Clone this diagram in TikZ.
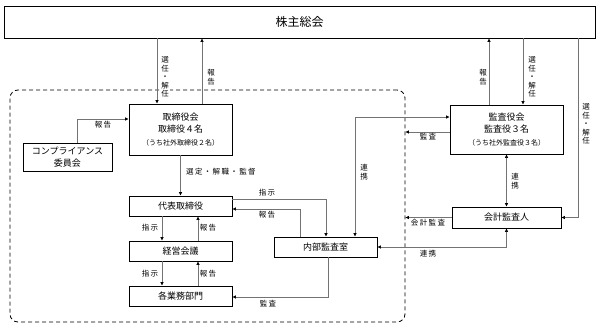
\documentclass[tikz,border=0pt]{standalone}
\usepackage{fontspec}
\setmainfont{Noto Sans CJK JP}
\newfontfamily\lblfont{Noto Sans CJK JP}[LetterSpace=18]
\usetikzlibrary{arrows.meta}

\begin{document}
\begin{tikzpicture}[x=1pt, y=-1pt,
    box/.style={draw, line width=0.9pt, minimum width=103pt, minimum height=20pt, inner sep=0pt, align=center, font=\fontsize{9}{12.5}\selectfont},
    conn/.style={draw=black!55, line width=0.7pt, -{Triangle[length=3.5pt, width=3pt, color=black]}},
    both/.style={conn, {Triangle[length=3.5pt, width=3pt, color=black]}-{Triangle[length=3.5pt, width=3pt, color=black]}},
    lbl/.style={font=\lblfont\fontsize{7.5}{8.6}\selectfont, inner sep=1pt},
    vlbl/.style={lbl, fill=white, align=center}]
    \useasboundingbox (0,0) rectangle (600,327);
    \node[draw, line width=0.8pt, dash pattern=on 4pt off 3pt, rounded corners=8pt, minimum width=395pt, minimum height=232pt] (grp) at (207.5,206) {};
    \node[box, minimum width=591pt, minimum height=32pt, font=\fontsize{12}{14}\selectfont] (gm) at (299.5,22) {株主総会};
    \node[box, minimum height=51pt] (bod) at (180.5,129.5) {取締役会\\取締役４名\\{\fontsize{7}{9}\selectfont （うち社外取締役２名）}};
    \node[box, minimum width=89pt, minimum height=28pt, font=\fontsize{9}{12}\selectfont] (comp) at (67.5,157) {コンプライアンス\\委員会};
    \node[box] (rep) at (180.5,206) {代表取締役};
    \node[box] (mgmt) at (180.5,251) {経営会議};
    \node[box] (dept) at (180.5,296) {各業務部門};
    \node[box] (audit) at (325.5,247) {内部監査室};
    \node[box, minimum width=113pt, minimum height=49pt] (kab) at (506.5,129.5) {監査役会\\監査役３名\\{\fontsize{7}{9}\selectfont （うち社外監査役３名）}};
    \node[box, minimum width=109pt, minimum height=21pt] (acc) at (506.5,217.5) {会計監査人};

    \draw[conn] (gm.south -| 157,0) -- (bod.north -| 157,0);
    \draw[conn] (bod.north -| 202,0) -- (gm.south -| 202,0);
    \draw[conn] (comp.north -| 77,0) |- (bod.west |- 0,119);
    \draw[conn] (bod.south) -- (rep.north);
    \draw[conn] (rep.south -| 162,0) -- (mgmt.north -| 162,0);
    \draw[conn] (mgmt.north -| 198,0) -- (rep.south -| 198,0);
    \draw[conn] (mgmt.south -| 162,0) -- (dept.north -| 162,0);
    \draw[conn] (dept.north -| 198,0) -- (mgmt.south -| 198,0);
    \draw[conn] (rep.east |- 0,199) -| (audit.north -| 326,0);
    \draw[conn] (audit.north -| 300,0) |- (rep.east |- 0,209);
    \draw[conn] (audit.south -| 328,0) |- (dept.east |- 0,297);
    \draw[both] (audit.north -| 355,0) |- (kab.west |- 0,117);
    \draw[conn] (kab.west |- 0,132) -- (grp.east |- 0,132);
    \draw[conn] (kab.north -| 489,0) -- (gm.south -| 489,0);
    \draw[conn] (gm.south -| 523,0) -- (kab.north -| 523,0);
    \draw[both] (kab.south) -- (acc.north);
    \draw[conn] (acc.west) -- (grp.east |- acc.west);
    \draw[both] (acc.south) |- (audit.east);
    \draw[conn] (gm.south -| 578,0) |- (acc.east);

    \node[vlbl] (lSelBod) at (165,77) {選\\任\\・\\解\\任};
    \node[vlbl] (lRepGm) at (211,77) {報\\告};
    \node[lbl] (lRepComp) at (103,125) {報告};
    \node[lbl, anchor=west] (lSup) at (185,172) {選定・解職・監督};
    \node[lbl] (lOrd1) at (150,228) {指示};
    \node[lbl] (lRep1) at (208,228) {報告};
    \node[lbl] (lOrd2) at (150,274) {指示};
    \node[lbl] (lRep2) at (208,274) {報告};
    \node[lbl] (lOrd3) at (267,193) {指示};
    \node[lbl] (lRep3) at (267,215) {報告};
    \node[lbl] (lAud1) at (268,304) {監査};
    \node[vlbl] (lLink1) at (364,172) {連\\携};
    \node[lbl] (lAud2) at (428,137) {監査};
    \node[lbl] (lAud3) at (428,223) {会計監査};
    \node[lbl] (lLink2) at (428,254) {連携};
    \node[vlbl] (lRepKab) at (483,77) {報\\告};
    \node[vlbl] (lSelKab) at (532,77) {選\\任\\・\\解\\任};
    \node[vlbl] (lLink3) at (515,181) {連\\携};
    \node[vlbl] (lSelAcc) at (586,124) {選\\任\\・\\解\\任};
\end{tikzpicture}
\end{document}
